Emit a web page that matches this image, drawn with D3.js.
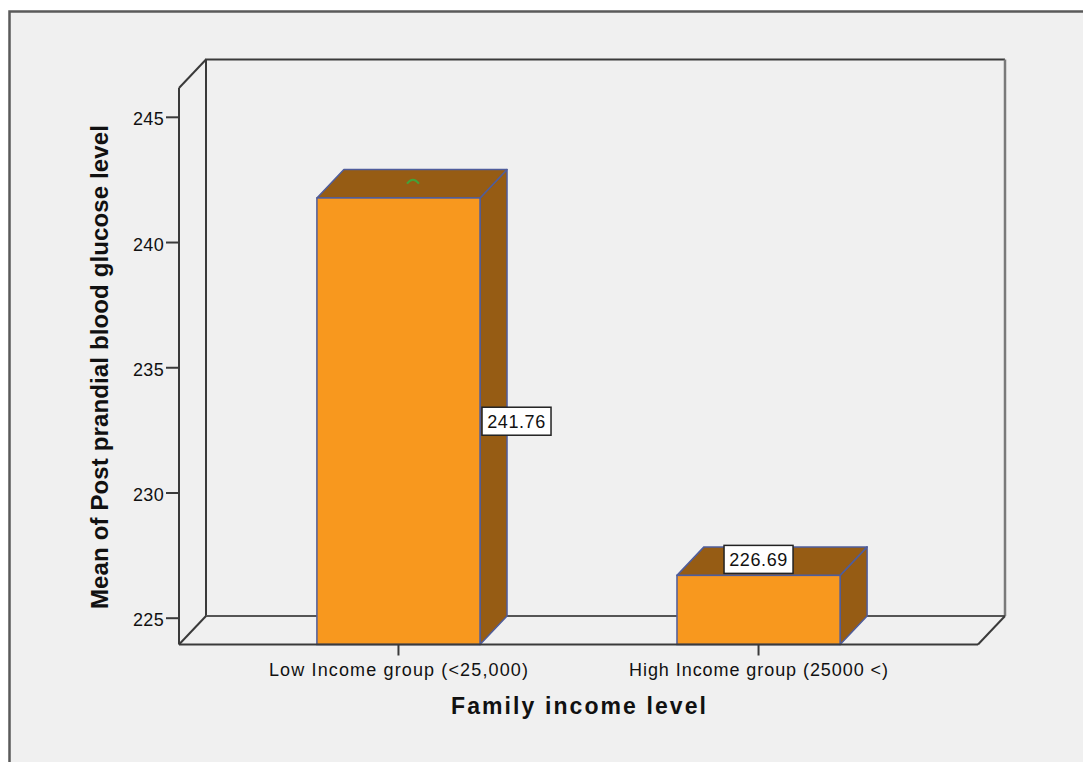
<!DOCTYPE html>
<html>
<head>
<meta charset="utf-8">
<script src="https://cdn.jsdelivr.net/npm/d3@7/dist/d3.min.js"></script>
<style>
  html, body { margin: 0; padding: 0; background: #ffffff; }
  svg { display: block; }
  text { font-family: "Liberation Sans", Arial, sans-serif; fill: #111; }
</style>
</head>
<body>
<svg id="chart" width="1083" height="762"></svg>
<script>
// Mean post-prandial blood glucose by family income level
const categories = ["Low Income group (<25,000)", "High Income group (25000 <)"];
const meanValues = [241.76, 226.69];
const valueLabels = ["241.76", "226.69"];
const yTicks = [225, 230, 235, 240, 245];
const yDomain = [223.93, 246.15];
const yTitle = "Mean of Post prandial blood glucose level";
const xTitle = "Family income level";

const svg = d3.select("#chart");

// frame geometry
const left = 179, right = 978, floorY = 644.5, topY = 88;
const depthX = 27, depthY = 28.5;

// panel background with outer frame
svg.append("rect")
  .attr("x", 9.5).attr("y", 11.5)
  .attr("width", 1100).attr("height", 800)
  .attr("fill", "#f0f0f0")
  .attr("stroke", "#5a5a5a").attr("stroke-width", 2.5);

const x = d3.scaleBand()
  .domain(categories)
  .range([left, right])
  .paddingInner(0.547)
  .paddingOuter(0.383);

const y = d3.scaleLinear()
  .domain(yDomain)
  .range([floorY, topY]);

const lineColor = "#3a3a3a";
const g = svg.append("g");

// back wall
g.append("path")
  .attr("d", `M${left + depthX},${floorY - depthY} L${left + depthX},${topY - depthY} L${right + depthX},${topY - depthY}`)
  .attr("fill", "none").attr("stroke", lineColor).attr("stroke-width", 2);
g.append("line")
  .attr("x1", right + depthX).attr("x2", right + depthX)
  .attr("y1", topY - depthY).attr("y2", floorY - depthY)
  .attr("stroke", "#7a7a7a").attr("stroke-width", 2.5);
g.append("line")
  .attr("x1", left + depthX).attr("x2", right + depthX)
  .attr("y1", floorY - depthY).attr("y2", floorY - depthY)
  .attr("stroke", "#555").attr("stroke-width", 2);

// side wall and floor diagonals
g.append("line")
  .attr("x1", left).attr("y1", topY)
  .attr("x2", left + depthX).attr("y2", topY - depthY)
  .attr("stroke", lineColor).attr("stroke-width", 2);
g.append("line")
  .attr("x1", left).attr("y1", floorY)
  .attr("x2", left + depthX).attr("y2", floorY - depthY)
  .attr("stroke", lineColor).attr("stroke-width", 2);
g.append("line")
  .attr("x1", right).attr("y1", floorY)
  .attr("x2", right + depthX).attr("y2", floorY - depthY)
  .attr("stroke", lineColor).attr("stroke-width", 2);

// 3D bars
const frontFill = "#f8981e";
const darkFill = "#965c14";
const edge = "#4f5d9c";

const bars = g.selectAll("g.bar")
  .data(categories.map((c, i) => ({ cat: c, value: meanValues[i], label: valueLabels[i] })))
  .join("g").attr("class", "bar");

bars.append("path")
  .attr("d", d => {
    const x0 = x(d.cat), x1 = x0 + x.bandwidth(), yv = y(d.value);
    return `M${x1},${yv} L${x1 + depthX},${yv - depthY} L${x1 + depthX},${floorY - depthY} L${x1},${floorY} Z`;
  })
  .attr("fill", darkFill).attr("stroke", edge).attr("stroke-width", 1.5).attr("stroke-linejoin", "round");

bars.append("path")
  .attr("d", d => {
    const x0 = x(d.cat), x1 = x0 + x.bandwidth(), yv = y(d.value);
    return `M${x0},${yv} L${x0 + depthX},${yv - depthY} L${x1 + depthX},${yv - depthY} L${x1},${yv} Z`;
  })
  .attr("fill", darkFill).attr("stroke", edge).attr("stroke-width", 1.5).attr("stroke-linejoin", "round");

bars.append("rect")
  .attr("x", d => x(d.cat))
  .attr("y", d => y(d.value))
  .attr("width", x.bandwidth())
  .attr("height", d => floorY - y(d.value))
  .attr("fill", frontFill).attr("stroke", edge).attr("stroke-width", 1.5);

// small green marker on the top face of the first bar
const b0 = { cat: categories[0], value: meanValues[0] };
const mx = x(b0.cat) + x.bandwidth() / 2 + depthX / 2 + 1;
const my = y(b0.value) - depthY / 2 - 2;
g.append("path")
  .attr("d", `M${mx - 6},${my + 2} Q${mx},${my - 6} ${mx + 6},${my + 2}`)
  .attr("fill", "none").attr("stroke", "#43a23a").attr("stroke-width", 2);

// front floor line and front axis line
g.append("line")
  .attr("x1", left).attr("x2", right)
  .attr("y1", floorY).attr("y2", floorY)
  .attr("stroke", lineColor).attr("stroke-width", 2.2);

const yAxis = g.append("g")
  .attr("transform", `translate(${left},0)`)
  .call(d3.axisLeft(y).tickValues(yTicks).tickSize(13).tickPadding(2).tickSizeOuter(0));
yAxis.select(".domain").attr("stroke", lineColor).attr("stroke-width", 2)
  .attr("d", `M0,${topY}V${floorY}`);
yAxis.selectAll(".tick line").attr("stroke", lineColor).attr("stroke-width", 2);
yAxis.selectAll(".tick text")
  .attr("font-family", "Liberation Sans, Arial, sans-serif")
  .attr("font-size", 18).attr("letter-spacing", 0.3)
  .attr("dy", "0.45em").attr("fill", "#222");

// category axis below the floor
const xAxis = g.append("g")
  .attr("transform", `translate(0,${floorY})`)
  .call(d3.axisBottom(x).tickSize(11).tickPadding(9).tickSizeOuter(0));
xAxis.select(".domain").remove();
xAxis.selectAll(".tick line").attr("stroke", lineColor).attr("stroke-width", 2);
xAxis.selectAll(".tick text")
  .attr("font-family", "Liberation Sans, Arial, sans-serif")
  .attr("font-size", 18).attr("fill", "#222")
  .attr("dy", "0.66em")
  .attr("textLength", 259).attr("lengthAdjust", "spacing");

// value labels
bars.each(function (d) {
  const sel = d3.select(this);
  const yv = y(d.value);
  const x0 = x(d.cat), x1 = x0 + x.bandwidth();
  const w = 69, h = 28;
  let bx, by;
  if (floorY - yv > 150) {
    bx = x1 + 2;
    by = (yv + floorY) / 2 - h / 2;
  } else {
    bx = x0 + x.bandwidth() / 2 - w / 2;
    by = yv - 2 - h;
  }
  sel.append("rect")
    .attr("x", bx).attr("y", by).attr("width", w).attr("height", h)
    .attr("fill", "#ffffff").attr("stroke", "#222").attr("stroke-width", 1.5);
  sel.append("text")
    .attr("x", bx + w / 2).attr("y", by + h / 2)
    .attr("dy", "0.36em")
    .attr("text-anchor", "middle")
    .attr("font-size", 18).attr("letter-spacing", 0.6)
    .text(d.label);
});

// axis titles
svg.append("text")
  .attr("transform", `translate(108,367) rotate(-90)`)
  .attr("text-anchor", "middle")
  .attr("font-size", 24).attr("font-weight", "bold")
  .attr("textLength", 484).attr("lengthAdjust", "spacing")
  .text(yTitle);

svg.append("text")
  .attr("x", 578.5).attr("y", 714)
  .attr("text-anchor", "middle")
  .attr("font-size", 23).attr("font-weight", "bold")
  .attr("textLength", 255).attr("lengthAdjust", "spacing")
  .text(xTitle);
</script>
</body>
</html>
